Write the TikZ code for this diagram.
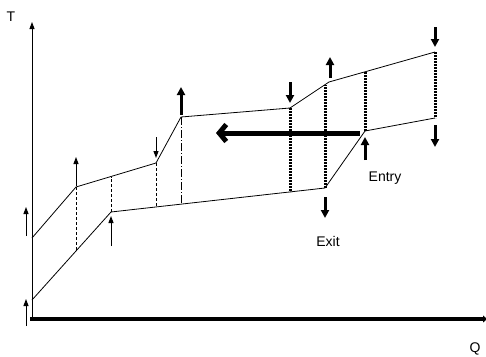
\documentclass[tikz,border=0pt]{standalone}
\usepackage{fontspec}
\setmainfont{Liberation Sans}
\usetikzlibrary{arrows.meta}
\tikzstyle{compline} = [draw, line width=0.8pt]
\tikzstyle{taxis} = [draw, line width=0.9pt, -{Triangle[length=7pt,width=5pt]}]
\tikzstyle{qaxis} = [draw, line width=4pt, -{Triangle[length=4pt,width=7pt]}]
\tikzstyle{thinarrow} = [draw, line width=1pt, -{Triangle[length=7pt,width=5pt]}]
\tikzstyle{boldarrow} = [draw, line width=3pt, -{Triangle[length=8pt,width=8pt]}]
\tikzstyle{bigarrow} = [draw, line width=5pt, -{Straight Barb[length=7pt,width=17pt]}]
\tikzstyle{dashline} = [draw, line width=0.8pt, dash pattern=on 3pt off 2pt]
\tikzstyle{dashdotline} = [draw, line width=0.8pt, dash pattern=on 8pt off 2pt on 1pt off 2pt]
\tikzstyle{dotline} = [draw, line width=3pt, dash pattern=on 2pt off 1pt]
\tikzstyle{lbl} = [font=\fontsize{14}{16}\selectfont, inner sep=0pt]

\begin{document}
\begin{tikzpicture}[x=1pt, y=-1pt]
    \useasboundingbox (0,0) rectangle (486,356);
    % Axes
    \node[coordinate] (origin) at (32,320) {};
    \node[coordinate] (ttop) at (32,22) {};
    \node[coordinate] (qleft) at (30,319) {};
    \node[coordinate] (qright) at (487,319) {};
    \path[taxis] (origin) -- (ttop);
    \path[qaxis] (qleft) -- (qright);
    \node[lbl] (tname) at (11,17) {T};
    \node[lbl] (qname) at (475,349) {Q};

    % Hot and cold composite curves
    \foreach \pos/\name in {{(32,238)/h0}, {(76,187)/h1}, {(156,163)/h2}, {(181,117)/h3},
    {(290,108)/h4}, {(329,82)/h5}, {(435,52)/h6},
    {(32,300)/c0}, {(111,212)/c1}, {(325,188)/c2}, {(365,131)/c3}, {(435,118)/c4}}
        \node[coordinate] (\name) at \pos {};
    \foreach \src/\dst in {h0/h1, h1/h2, h2/h3, h3/h4, h4/h5, h5/h6, c0/c1, c1/c2, c2/c3, c3/c4}
        \path[compline] (\src) -- (\dst);

    % Where the verticals meet the other curve
    \foreach \pos/\name in {{(76,251)/v1}, {(111,176.5)/v2}, {(156,207)/v3}, {(181,204)/v4},
    {(290,192)/v5}, {(325,84.7)/v6}, {(365,71.8)/v7}}
        \node[coordinate] (\name) at \pos {};
    \foreach \src/\dst in {h1/v1, c1/v2, h2/v3}
        \path[dashline] (\src) -- (\dst);
    \path[dashdotline] (h3) -- (v4);
    \foreach \src/\dst in {h4/v5, c2/v6, c3/v7, h6/c4}
        \path[dotline] (\src) -- (\dst);

    % Arrows at the kinks
    \foreach \pos/\name in {{(26,236)/a1s}, {(26,207)/a1e}, {(26,326)/a2s}, {(26,299)/a2e},
    {(76,186)/a3s}, {(76,157)/a3e}, {(111,246)/a4s}, {(111,216)/a4e},
    {(156,137)/a5s}, {(156,158)/a5e},
    {(181,115)/b1s}, {(181,87)/b1e}, {(290,82)/b2s}, {(290,103)/b2e},
    {(330,78)/b3s}, {(330,57)/b3e}, {(435,27)/b4s}, {(435,47)/b4e},
    {(365,160)/b5s}, {(365,137)/b5e}, {(435,125)/b6s}, {(435,147)/b6e},
    {(325,197)/b7s}, {(325,218)/b7e}, {(360,133)/ms}, {(216,133)/me}}
        \node[coordinate] (\name) at \pos {};
    \foreach \src/\dst in {a1s/a1e, a2s/a2e, a3s/a3e, a4s/a4e, a5s/a5e}
        \path[thinarrow] (\src) -- (\dst);
    \foreach \src/\dst in {b1s/b1e, b2s/b2e, b3s/b3e, b4s/b4e, b5s/b5e, b6s/b6e, b7s/b7e}
        \path[boldarrow] (\src) -- (\dst);
    \path[bigarrow] (ms) -- (me);

    \node[lbl] (entry) at (385,178) {Entry};
    \node[lbl] (exit) at (328,241) {Exit};
\end{tikzpicture}
\end{document}
